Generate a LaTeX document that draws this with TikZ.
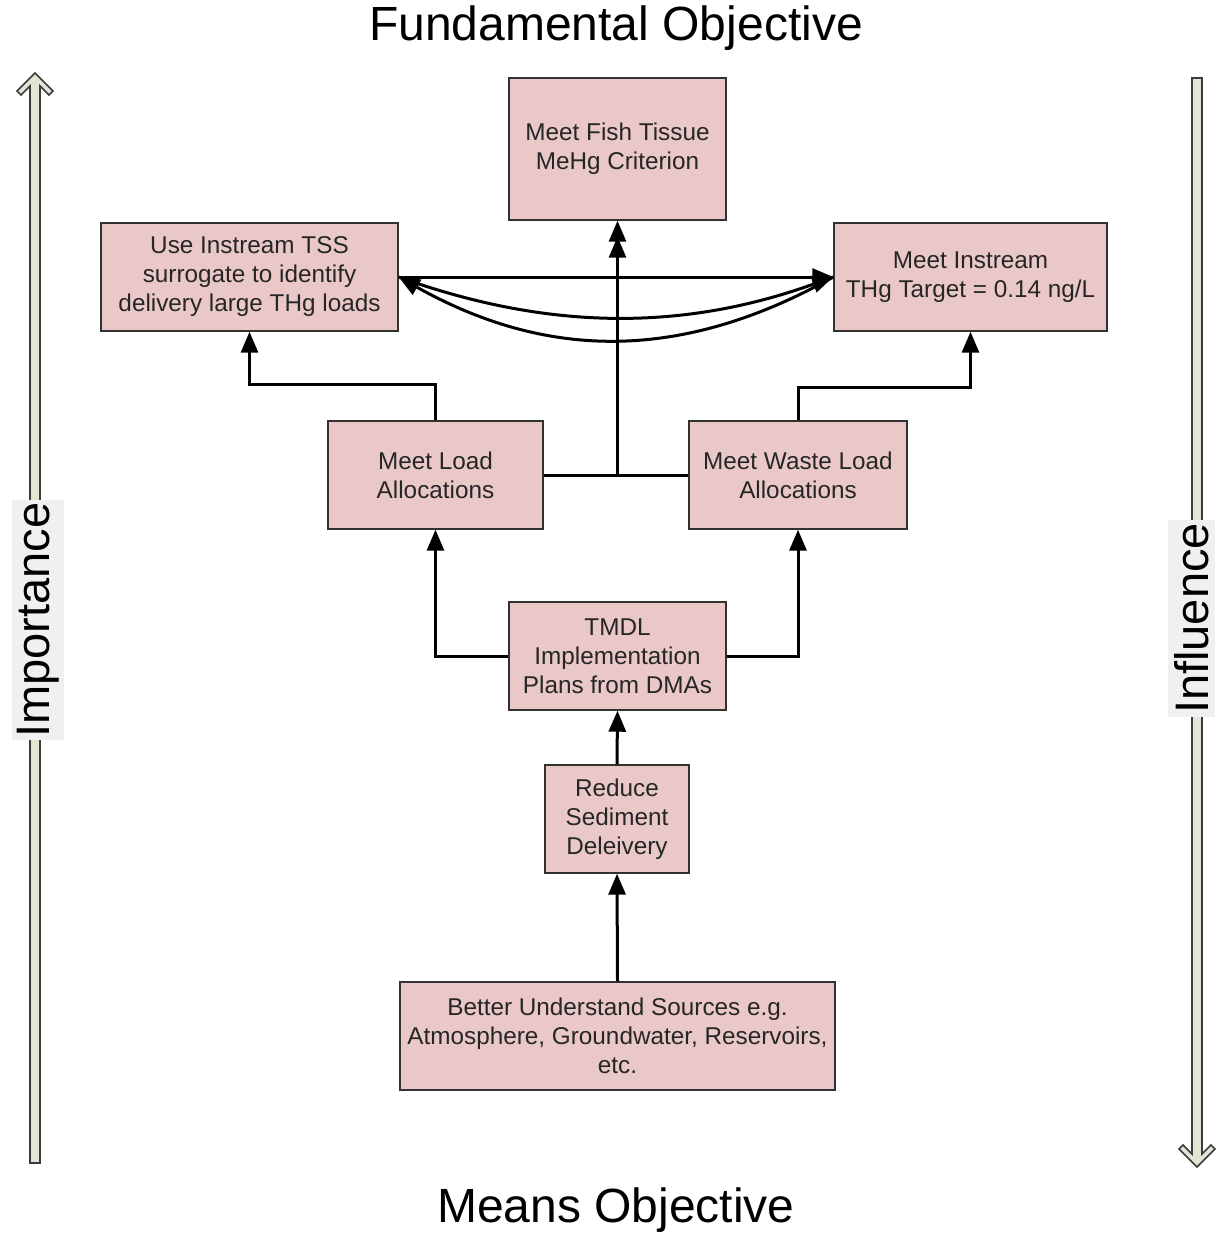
\documentclass[tikz,border=0pt]{standalone}
\usepackage{fontspec}
\setmainfont{Liberation Sans}
\usetikzlibrary{arrows.meta,calc}
\definecolor{boxfill}{RGB}{234,200,200}
\definecolor{boxline}{RGB}{50,50,50}
\definecolor{bigfill}{RGB}{228,228,212}
\definecolor{bigline}{RGB}{60,60,60}
\definecolor{lblfill}{RGB}{240,240,240}
\tikzset{
  obj/.style={draw=boxline, line width=1.4pt, fill=boxfill, align=center, inner sep=0pt,
    text=black!85, font=\fontsize{24.3}{29}\selectfont},
  arr/.style={line width=3pt, -{Triangle[length=21pt,width=17pt]}},
  plain/.style={line width=3pt},
  bigarrow/.style={draw=bigline, line width=1.6pt, fill=bigfill, line join=miter},
  sidelbl/.style={rotate=90, fill=lblfill, inner sep=0pt, font=\fontsize{47}{50}\selectfont},
  title/.style={font=\fontsize{48}{52}\selectfont, inner sep=0pt}
}
\begin{document}
\begin{tikzpicture}[x=1pt,y=-1pt]
\useasboundingbox (0,0) rectangle (1218,1239);
% big side arrows
\path[bigarrow] (30,1163) -- (30,86) -- (21,95) -- (17,91) -- (35,73) -- (53,91) -- (49,95) -- (40,86) -- (40,1163) -- cycle;
\path[bigarrow] (1192,78) -- (1192,1154) -- (1183,1145) -- (1179,1149) -- (1197,1167) -- (1215,1149) -- (1211,1145) -- (1202,1154) -- (1202,78) -- cycle;
\node[sidelbl, minimum width=240pt, minimum height=52pt] (imp) at (38,620) {Importance};
\node[sidelbl, minimum width=197pt, minimum height=47pt] (inf) at (1191.5,618.5) {Influence};
% titles
\node[title] (top) at (616,28) {Fundamental Objective};
\node[title] (bot) at (616,1210) {Means Objective};
% boxes
\node[obj, minimum width=217pt, minimum height=142pt] (fish) at (617.5,149) {Meet Fish Tissue\\MeHg Criterion};
\node[obj, minimum width=297pt, minimum height=108pt] (tss) at (249.5,277) {Use Instream TSS\\surrogate to identify\\delivery large THg loads};
\node[obj, minimum width=273pt, minimum height=108pt] (ins) at (970.5,277) {Meet Instream\\THg Target = 0.14 ng/L};
\node[obj, minimum width=215pt, minimum height=108pt] (load) at (435.5,475) {Meet Load\\Allocations};
\node[obj, minimum width=218pt, minimum height=108pt] (waste) at (798,475) {Meet Waste Load\\Allocations};
\node[obj, minimum width=217pt, minimum height=108pt] (tmdl) at (617.5,656) {TMDL\\Implementation\\Plans from DMAs};
\node[obj, minimum width=144pt, minimum height=108pt] (sed) at (617,819) {Reduce\\Sediment\\Deleivery};
\node[obj, minimum width=435pt, minimum height=108pt] (better) at (617.5,1036) {Better Understand Sources e.g.\\Atmosphere, Groundwater, Reservoirs,\\etc.};
% connectors
\draw[arr] (better.north) -- (sed.south);
\draw[arr] (sed.north) -- (tmdl.south);
\draw[arr] (tmdl.west) -| (load.south);
\draw[arr] (tmdl.east) -| (waste.south);
\draw[arr] (load.north) -- ++(0,-36) -| (tss.south);
\draw[arr] (waste.north) -- ++(0,-33) -| (ins.south);
\draw[arr, shorten >=16pt] (waste.west) -- (waste.west -| fish.south) -- (fish.south);
\draw[arr] (load.east) -- (load.east -| fish.south) -- (fish.south);
\draw[arr] (tss.east) -- (ins.west);
\draw[arr] (tss.east) .. controls +(150,54) and +(-150,54) .. (ins.west);
\draw[arr] (ins.west) .. controls +(-150,84) and +(150,84) .. (tss.east);
\end{tikzpicture}
\end{document}
